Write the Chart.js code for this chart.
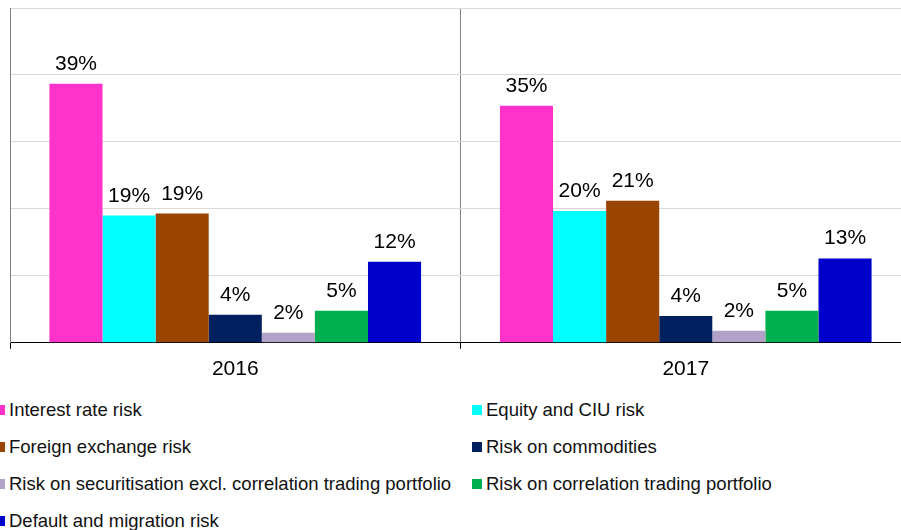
<!DOCTYPE html>
<html lang="en">
<head>
    <meta charset="UTF-8">
    <title>Market risk breakdown 2016-2017</title>
    <script src="https://cdn.jsdelivr.net/npm/chart.js@4.4.1/dist/chart.umd.min.js"></script>
    <style>
        body {
            margin: 0;
            padding: 0;
            background: #fff;
            overflow: hidden;
            font-family: 'Liberation Sans', Arial, sans-serif;
        }
        .chart-box {
            position: absolute;
            left: 0;
            top: 0;
            width: 911px;
            height: 390px;
        }
        .legend {
            position: absolute;
            left: 0;
            top: 391px;
            width: 901px;
            display: grid;
            grid-template-columns: 472px 429px;
            grid-auto-rows: 37px;
            font-size: 18.5px;
            color: #111;
        }
        .legend div {
            display: flex;
            align-items: center;
            white-space: nowrap;
        }
        .legend span.box {
            display: inline-block;
            width: 10px;
            height: 10px;
            margin-right: 4px;
        }
        .legend .left span.box {
            margin-left: -5px;
        }
    </style>
</head>
<body>
    <div class="chart-box">
        <canvas id="riskChart"></canvas>
    </div>
    <div class="legend" id="legend"></div>

    <script>
        // categories and series
        const years = ['2016', '2017'];
        const seriesNames = [
            'Interest rate risk',
            'Equity and CIU risk',
            'Foreign exchange risk',
            'Risk on commodities',
            'Risk on securitisation excl. correlation trading portfolio',
            'Risk on correlation trading portfolio',
            'Default and migration risk'
        ];
        const seriesColors = ['#FF33CC', '#00FFFF', '#994400', '#002060', '#B3A2C7', '#00B050', '#0000CC'];

        // values in % per series: [2016, 2017]
        const interestRate = [38.7, 35.4];
        const equityCiu = [19.0, 19.7];
        const foreignExchange = [19.3, 21.2];
        const commodities = [4.2, 4.0];
        const securitisation = [1.5, 1.8];
        const correlationTrading = [4.8, 4.8];
        const defaultMigration = [12.1, 12.6];
        const seriesValues = [interestRate, equityCiu, foreignExchange, commodities, securitisation, correlationTrading, defaultMigration];

        // labels printed over the bars
        const valueLabels = [
            ['39%', '35%'],
            ['19%', '20%'],
            ['19%', '21%'],
            ['4%', '4%'],
            ['2%', '2%'],
            ['5%', '5%'],
            ['12%', '13%']
        ];

        const datasets = seriesNames.map(function(name, i) {
            return {
                label: name,
                data: seriesValues[i],
                backgroundColor: seriesColors[i],
                categoryPercentage: 0.825,
                barPercentage: 1.0
            };
        });

        // draw percentages above each bar
        const barLabels = {
            id: 'barLabels',
            afterDatasetsDraw: function(chart) {
                const ctx = chart.ctx;
                ctx.save();
                ctx.font = '21px "Liberation Sans", Arial, sans-serif';
                ctx.fillStyle = '#000';
                ctx.textAlign = 'center';
                ctx.textBaseline = 'alphabetic';
                chart.data.datasets.forEach(function(ds, i) {
                    chart.getDatasetMeta(i).data.forEach(function(bar, j) {
                        ctx.fillText(valueLabels[i][j], bar.x, bar.y - 14);
                    });
                });
                ctx.restore();
            }
        };

        new Chart(document.getElementById('riskChart'), {
            type: 'bar',
            data: { labels: years, datasets: datasets },
            plugins: [barLabels],
            options: {
                responsive: true,
                maintainAspectRatio: false,
                animation: false,
                layout: { padding: { left: 10, top: 8, right: 0, bottom: 0 } },
                plugins: {
                    legend: { display: false },
                    tooltip: { enabled: false }
                },
                scales: {
                    x: {
                        offset: true,
                        grid: {
                            offset: true,
                            color: '#808080',
                            tickColor: '#000',
                            tickLength: 6
                        },
                        border: { color: '#000', width: 1 },
                        ticks: {
                            color: '#000',
                            padding: 8,
                            font: { size: 21, family: '"Liberation Sans", Arial, sans-serif' }
                        }
                    },
                    y: {
                        min: 0,
                        max: 50,
                        ticks: { display: false, stepSize: 10 },
                        grid: { color: '#d9d9d9', drawTicks: false },
                        border: { color: '#808080', width: 1 }
                    }
                }
            }
        });

        // two-column legend
        const legendEl = document.getElementById('legend');
        seriesNames.forEach(function(name, i) {
            const item = document.createElement('div');
            item.className = i % 2 === 0 ? 'left' : 'right';
            const box = document.createElement('span');
            box.className = 'box';
            box.style.background = seriesColors[i];
            item.appendChild(box);
            item.appendChild(document.createTextNode(name));
            legendEl.appendChild(item);
        });
    </script>
</body>
</html>
